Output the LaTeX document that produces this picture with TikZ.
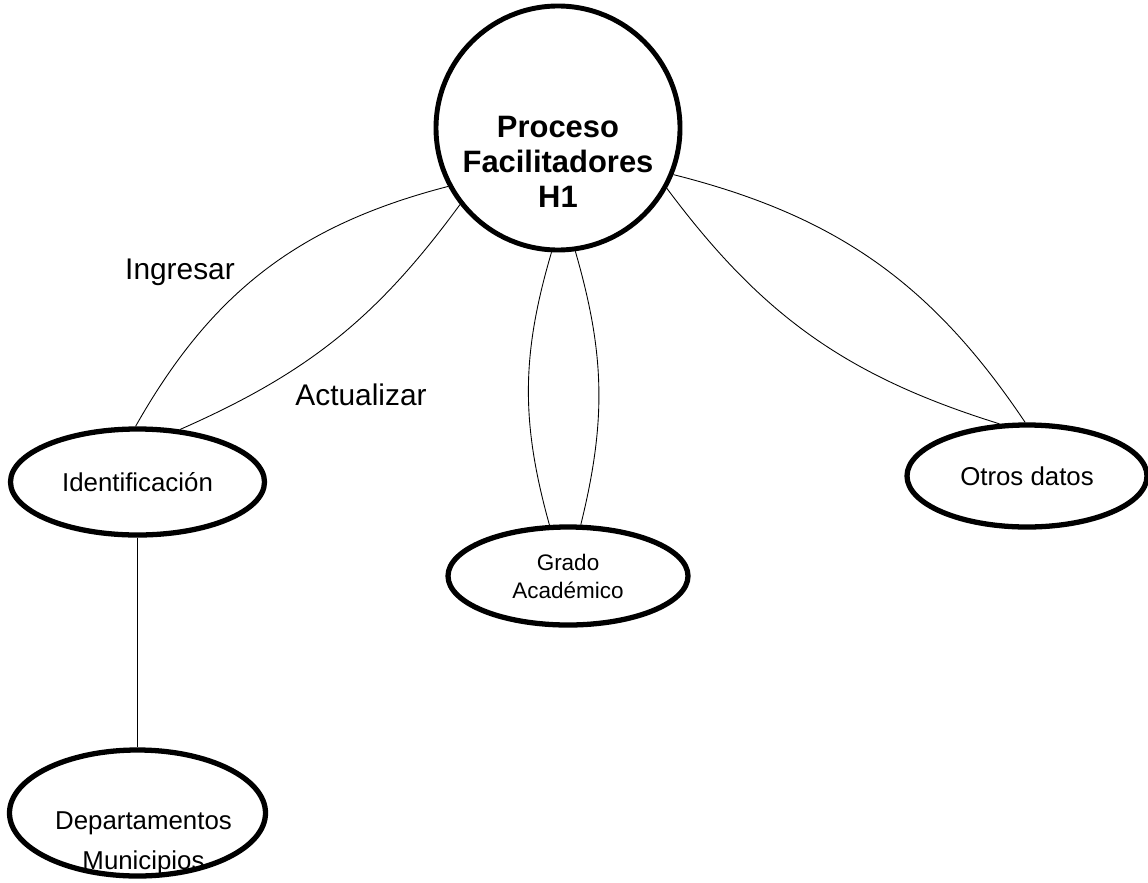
\documentclass[tikz,border=0pt]{standalone}
\usepackage{fontspec}
\setmainfont{Liberation Sans}
\usetikzlibrary{shapes.geometric}
\begin{document}
\begin{tikzpicture}[
        proc/.style={circle, draw, line width=2.8pt, minimum size=4.88cm, inner sep=0pt},
        entity/.style={ellipse, draw, line width=3pt, inner sep=0pt, align=center},
        link/.style={line width=0.5pt},
        tag/.style={font=\fontsize{17}{20}\selectfont}
    ]
                \useasboundingbox (0,0) rectangle (22.96,-17.64);

                \node[proc] (h) at (11.16,-2.56) {};
                \node[align=center, font=\fontsize{17.6}{19.8}\selectfont\bfseries] (htext) at ([yshift=-0.68cm] h.center) {Proceso\\Facilitadores\\H1};
                \node[entity, minimum width=5.08cm, minimum height=2.12cm, font=\fontsize{14.7}{17}\selectfont] (id) at (2.75,-9.64) {Identificación};
                \node[entity, minimum width=4.8cm, minimum height=1.96cm, font=\fontsize{12.8}{15.9}\selectfont] (gr) at (11.36,-11.52) {Grado\\Académico};
                \node[entity, minimum width=4.8cm, minimum height=2.04cm, font=\fontsize{14.7}{17}\selectfont] (od) at (20.54,-9.52) {Otros datos};
                \node[entity, minimum width=5.12cm, minimum height=2.52cm] (dep) at (2.75,-16.26) {};
                \node[align=center, font=\fontsize{14.7}{22.7}\selectfont] (deptext) at ([shift={(0.12,-0.6)}] dep.center) {Departamentos\\Municipios};

                \node[tag] (ing) at (3.6,-5.44) {Ingresar};
                \node[tag] (act) at (7.22,-7.9) {Actualizar};

                \draw[link] (h.208) to[bend right=23] (id.92);
                \draw[link] (h.218) to[bend left=15] (id.51);
                \draw[link] (h.267) to[bend right=16] (gr.110);
                \draw[link] (h.278) to[bend left=15] (gr.76);
                \draw[link] (h.338) to[bend left=21] (od.92);
                \draw[link] (h.331) to[bend right=18] (od.118);
                \draw[link] (id.south) -- (dep.north);
            \end{tikzpicture}
\end{document}
